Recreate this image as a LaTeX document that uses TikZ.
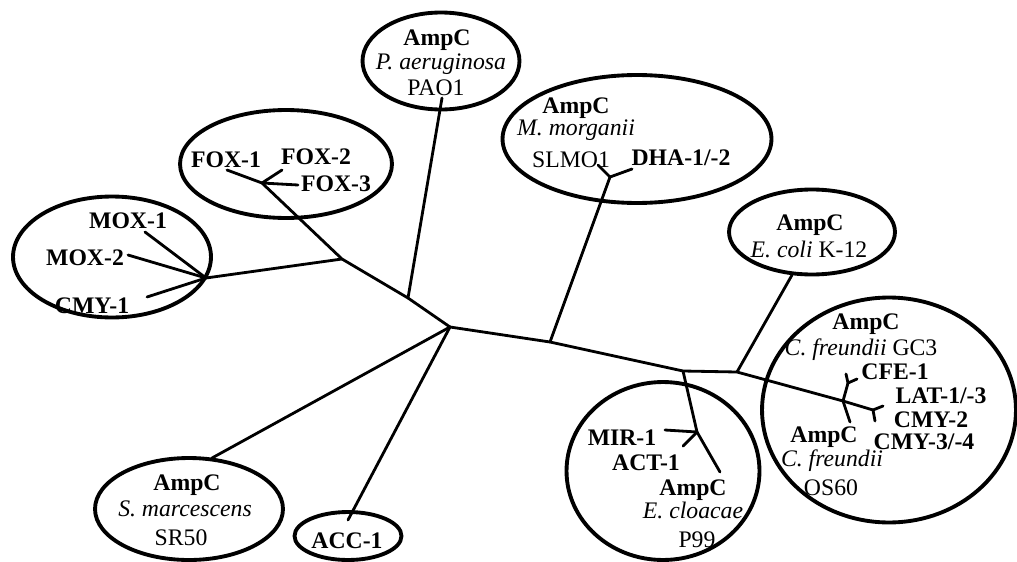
\documentclass[tikz,border=0pt]{standalone}
\usepackage{fontspec}
\setmainfont{Liberation Serif}
\usetikzlibrary{shapes.geometric}
\begin{document}
\begin{tikzpicture}[x=0.02cm,y=-0.02cm,
  ell/.style={draw, ellipse, line width=2.2pt, inner sep=0pt},
  br/.style={line width=1.6pt, line cap=round, line join=round},
  lb/.style={anchor=base, inner sep=0pt, font=\fontsize{13.5}{15}\selectfont\bfseries},
  sp/.style={anchor=base, inner sep=0pt, font=\fontsize{13.5}{15}\selectfont\itshape},
  st/.style={anchor=base, inner sep=0pt, font=\fontsize{13.5}{15}\selectfont},
]
\useasboundingbox (0,0) rectangle (1017,561);

% ellipses
\node[ell, minimum width=3.14cm, minimum height=1.94cm] (pao) at (441,61) {};
\node[ell, minimum width=4.24cm, minimum height=2.16cm] (fox) at (286,164) {};
\node[ell, minimum width=3.96cm, minimum height=2.42cm] (mox) at (112,257) {};
\node[ell, minimum width=5.38cm, minimum height=2.56cm] (mor) at (637,139) {};
\node[ell, minimum width=3.32cm, minimum height=1.70cm] (eco) at (812,232) {};
\node[ell, minimum width=5.08cm, minimum height=4.50cm] (cfr) at (889,410) {};
\node[ell, minimum width=3.86cm, minimum height=3.56cm] (ecl) at (663,471) {};
\node[ell, minimum width=3.76cm, minimum height=2.04cm] (sma) at (189,509) {};
\node[ell, minimum width=2.14cm, minimum height=0.96cm] (acc) at (348,536) {};

% tree coordinates
\coordinate (c0) at (450,327);
\coordinate (pA) at (408,298);
\coordinate (paoE) at (442,98);
\coordinate (pM) at (342,259);
\coordinate (fJ) at (262,183);
\coordinate (f1) at (227,170);
\coordinate (f2) at (282,170);
\coordinate (f3) at (298,185);
\coordinate (mJ) at (206,278);
\coordinate (m1) at (145,232);
\coordinate (m2) at (128,255);
\coordinate (m3) at (147,297);
\coordinate (smaE) at (212,458);
\coordinate (accE) at (348,520);
\coordinate (n1) at (550,342);
\coordinate (morJ) at (610,177);
\coordinate (morS) at (598,165);
\coordinate (morD) at (632,169);
\coordinate (n2) at (683,371);
\coordinate (eclJ) at (697,432);
\coordinate (eclM) at (665,430);
\coordinate (eclC) at (683,446);
\coordinate (eclA) at (720,472);
\coordinate (n3) at (737,372);
\coordinate (ecoE) at (792,275);
\coordinate (n4) at (843,401);
\coordinate (cfeJ) at (848,383);
\coordinate (cfe1) at (846,374);
\coordinate (cfe2) at (857,379);
\coordinate (osE) at (850,422);
\coordinate (n5) at (873,410);
\coordinate (lat1) at (883,406);
\coordinate (lat2) at (875,421);

% branches
\draw[br] (c0) -- (pA) -- (pM) -- (fJ);
\draw[br] (pA) -- (paoE);
\draw[br] (pM) -- (mJ);
\draw[br] (fJ) -- (f1);
\draw[br] (fJ) -- (f2);
\draw[br] (fJ) -- (f3);
\draw[br] (mJ) -- (m1);
\draw[br] (mJ) -- (m2);
\draw[br] (mJ) -- (m3);
\draw[br] (c0) -- (smaE);
\draw[br] (c0) -- (accE);
\draw[br] (c0) -- (n1) -- (n2) -- (n3) -- (n4) -- (n5);
\draw[br] (n1) -- (morJ);
\draw[br] (morJ) -- (morS);
\draw[br] (morJ) -- (morD);
\draw[br] (n2) -- (eclJ) -- (eclA);
\draw[br] (eclJ) -- (eclM);
\draw[br] (eclJ) -- (eclC);
\draw[br] (n3) -- (ecoE);
\draw[br] (n4) -- (cfeJ);
\draw[br] (cfeJ) -- (cfe1);
\draw[br] (cfeJ) -- (cfe2);
\draw[br] (n4) -- (osE);
\draw[br] (n5) -- (lat1);
\draw[br] (n5) -- (lat2);

% labels
\node[lb] (paoA) at (437,45) {AmpC};
\node[sp] (paoB) at (441,69) {P. aeruginosa};
\node[st] (paoC) at (436,95) {PAO1};

\node[lb] (fox1) at (226,167) {FOX-1};
\node[lb] (fox2) at (316,164) {FOX-2};
\node[lb] (fox3) at (336,191) {FOX-3};

\node[lb] (mox1) at (128,228) {MOX-1};
\node[lb] (mox2) at (85,265) {MOX-2};
\node[lb] (cmy1) at (92,313) {CMY-1};

\node[lb] (morA) at (576,113) {AmpC};
\node[sp] (morB) at (576,135) {M. morganii};
\node[st] (morC) at (571,167) {SLMO1};
\node[lb] (dha) at (681,165) {DHA-1/-2};

\node[lb] (ecoA) at (810,230) {AmpC};
\node[st] (ecoB) at (809,257) {\textit{E. coli} K-12};

\node[lb] (cfrA) at (866,329) {AmpC};
\node[st] (cfrB) at (861,355) {\textit{C. freundii} GC3};
\node[lb] (cfe) at (895,379) {CFE-1};
\node[lb] (lat) at (941,403) {LAT-1/-3};
\node[lb] (cmy2) at (931,427) {CMY-2};
\node[lb] (cmy34) at (924,449) {CMY-3/-4};
\node[lb] (osA) at (824,442) {AmpC};
\node[sp] (osB) at (832,466) {C. freundii};
\node[st] (osC) at (831,495) {OS60};

\node[lb] (mir) at (622,445) {MIR-1};
\node[lb] (act) at (646,470) {ACT-1};
\node[lb] (eclLA) at (693,495) {AmpC};
\node[sp] (eclLB) at (693,518) {E. cloacae};
\node[st] (eclLC) at (697,547) {P99};

\node[lb] (smaA) at (187,490) {AmpC};
\node[sp] (smaB) at (185,516) {S. marcescens};
\node[st] (smaC) at (181,545) {SR50};

\node[lb] (accL) at (347,548) {ACC-1};
\end{tikzpicture}
\end{document}
